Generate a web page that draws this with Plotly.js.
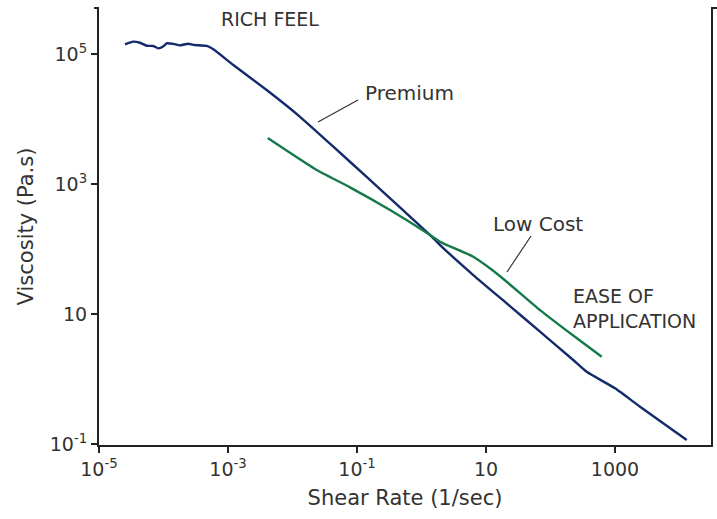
<!DOCTYPE html>
<html>
<head>
<meta charset="utf-8">
<script src="https://cdn.plot.ly/plotly-3.0.1.min.js"></script>
<style>html,body{margin:0;padding:0;background:#fff;}#chart{width:717px;height:519px;}</style>
</head>
<body>
<div id="chart"></div>
<script>
// Premium product (navy)
const premiumShear = [2.53e-5, 3.40e-5, 4.33e-5, 5.50e-5, 6.96e-5, 8.30e-5, 1.01e-4, 1.12e-4, 1.42e-4, 1.80e-4, 2.42e-4, 2.90e-4, 4.68e-4, 5.92e-4, 1.21e-3, 3.98e-3, 1.31e-2, 4.29e-2, 0.141, 1.36, 1.94, 6.35, 20.9, 68.7, 225, 364, 1000, 2442, 12940];
const premiumVisc  = [1.41e5, 1.55e5, 1.49e5, 1.34e5, 1.33e5, 1.22e5, 1.33e5, 1.46e5, 1.43e5, 1.36e5, 1.44e5, 1.38e5, 1.33e5, 1.18e5, 6.78e4, 2.79e4, 1.08e4, 3.75e3, 1.29e3, 164, 115, 39.8, 14.6, 5.35, 1.96, 1.29, 0.719, 0.375, 0.115];
// Low cost product (green)
const lowCostShear = [4.13e-3, 1.03e-2, 2.37e-2, 7.78e-2, 0.325, 1.36, 1.94, 6.35, 11.5, 20.9, 68.7, 225, 622];
const lowCostVisc  = [5.1e3, 2.79e3, 1.64e3, 889, 398, 164, 129, 76.2, 50.5, 31.4, 11.5, 4.67, 2.20];
// Tick labels
const xTickVals = [1e-5, 1e-3, 1e-1, 10, 1000];
const xTickText = ["10<sup>-5</sup>", "10<sup>-3</sup>", "10<sup>-1</sup>", "10", "1000"];
const yTickVals = [1e-1, 10, 1e3, 1e5];
const yTickText = ["10<sup>-1</sup>", "10", "10<sup>3</sup>", "10<sup>5</sup>"];

const FONT = "DejaVu Sans, sans-serif";
const TXT = "#333333";

const traces = [
  {x: premiumShear, y: premiumVisc, type: "scatter", mode: "lines", name: "Premium",
   line: {color: "#132a6b", width: 2.4, shape: "spline", smoothing: 0.5}},
  {x: lowCostShear, y: lowCostVisc, type: "scatter", mode: "lines", name: "Low Cost",
   line: {color: "#157a4a", width: 2.4, shape: "spline", smoothing: 0.5}}
];

const layout = {
  width: 717, height: 519,
  margin: {l: 99, r: 6, t: 8, b: 74},
  paper_bgcolor: "#ffffff", plot_bgcolor: "#ffffff",
  showlegend: false,
  font: {family: FONT, color: TXT, size: 19},
  xaxis: {
    type: "log", range: [-5, 4.488], tickmode: "array",
    tickvals: xTickVals, ticktext: xTickText,
    showgrid: false, zeroline: false,
    showline: true, linecolor: "#222", linewidth: 2,
    ticks: "outside", ticklen: 6, tickwidth: 2, tickcolor: "#222",
    tickfont: {family: FONT, size: 19, color: TXT},
    title: {text: "Shear Rate (1/sec)", font: {family: FONT, size: 21, color: TXT}, standoff: 12}
  },
  yaxis: {
    type: "log", range: [-1.015, 5.708], tickmode: "array",
    tickvals: yTickVals, ticktext: yTickText,
    showgrid: false, zeroline: false,
    showline: true, mirror: true, linecolor: "#222", linewidth: 2,
    ticks: "outside", ticklen: 6, tickwidth: 2, tickcolor: "#222",
    tickfont: {family: FONT, size: 19, color: TXT},
    title: {text: "Viscosity (Pa.s)", font: {family: FONT, size: 21, color: TXT}, standoff: 10}
  },
  shapes: [
    {type: "line", xref: "paper", yref: "paper", x0: -0.008, x1: 0, y0: 1, y1: 1, line: {color: "#222", width: 2}},
    {type: "line", xref: "paper", yref: "paper", x0: 1, x1: 1.012, y0: 1, y1: 1, line: {color: "#222", width: 2}},
    {type: "line", xref: "paper", yref: "paper", x0: 0.3578, y0: 0.7391, x1: 0.4232, y1: 0.7895, line: {color: "#333", width: 1.2}},
    {type: "line", xref: "paper", yref: "paper", x0: 0.7059, y0: 0.4783, x1: 0.6667, y1: 0.3959, line: {color: "#333", width: 1.2}}
  ],
  annotations: [
    {text: "RICH FEEL", xref: "paper", yref: "paper", x: (270 - 99) / 612, y: (445 - 19) / 437, showarrow: false, xanchor: "center", yanchor: "middle", font: {family: FONT, size: 19, color: TXT}},
    {text: "Premium", xref: "paper", yref: "paper", x: (409 - 99) / 612, y: (445 - 93) / 437, showarrow: false, xanchor: "center", yanchor: "middle", font: {family: FONT, size: 20, color: TXT}},
    {text: "Low Cost", xref: "paper", yref: "paper", x: (538 - 99) / 612, y: (445 - 224) / 437, showarrow: false, xanchor: "center", yanchor: "middle", font: {family: FONT, size: 20, color: TXT}},
    {text: "EASE OF<br>APPLICATION", xref: "paper", yref: "paper", x: (571 - 99) / 612, y: (445 - 308) / 437, showarrow: false, xanchor: "left", yanchor: "middle", align: "left", font: {family: FONT, size: 19, color: TXT}}
  ]
};

Plotly.newPlot("chart", traces, layout, {displayModeBar: false, staticPlot: true});
</script>
</body>
</html>
